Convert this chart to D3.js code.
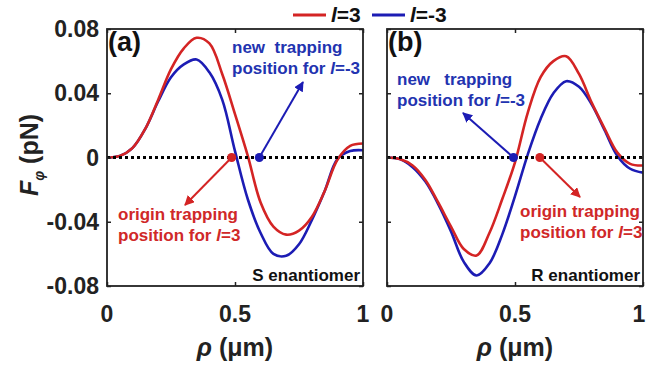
<!DOCTYPE html>
<html>
<head>
<meta charset="utf-8">
<script src="https://cdn.jsdelivr.net/npm/d3@7"></script>
</head>
<body style="margin:0;background:#fff">
<svg id="chart" width="646" height="367"></svg>
<script>
// radial position (um)
const rho = [0, 0.05, 0.1, 0.15, 0.2, 0.25, 0.3, 0.35, 0.4, 0.45, 0.5,
             0.55, 0.6, 0.65, 0.7, 0.75, 0.8, 0.85, 0.9, 0.95, 1.0];

// (a) S enantiomer
const sL3  = [0, 0.001, 0.006, 0.018, 0.036, 0.055, 0.068, 0.0745, 0.071, 0.052, 0.027,
              0.001, -0.028, -0.043, -0.048, -0.0455, -0.037, -0.021, -0.0015, 0.0072, 0.0087];
const sLm3 = [0, 0.001, 0.006, 0.018, 0.035, 0.050, 0.058, 0.061, 0.053, 0.036, 0.004,
              -0.026, -0.047, -0.060, -0.0612, -0.054, -0.039, -0.021, -0.001, 0.004, 0.0045];

// (b) R enantiomer
const rL3  = [0, -0.001, -0.005, -0.014, -0.028, -0.043, -0.057, -0.061, -0.047, -0.026, -0.003,
              0.028, 0.050, 0.060, 0.063, 0.052, 0.034, 0.018, 0.003, -0.004, -0.005];
const rLm3 = [0, -0.001, -0.006, -0.015, -0.029, -0.046, -0.065, -0.0735, -0.066, -0.048, -0.024,
              0.002, 0.024, 0.040, 0.0475, 0.044, 0.033, 0.017, 0.001, -0.007, -0.0094];

const yTicks = [-0.08, -0.04, 0, 0.04, 0.08];
const xTicks = [0, 0.5, 1];

// trapping positions (dots on the zero line)
const trapS = { l3: 0.487, lm3: 0.595 };
const trapR = { l3: 0.597, lm3: 0.494 };

const red = "#d42424", blue = "#1c1cb4";
const svg = d3.select("#chart")
  .attr("font-family", "'Liberation Sans', Arial, sans-serif")
  .attr("font-weight", "bold");

const plotTop = 29, plotBottom = 286;
const y = d3.scaleLinear().domain([-0.08, 0.08]).range([plotBottom, plotTop]);

const defs = svg.append("defs");
[["arrRed", red], ["arrBlue", blue]].forEach(([id, c]) => {
  defs.append("marker").attr("id", id)
    .attr("viewBox", "0 0 10 10").attr("refX", 9).attr("refY", 5)
    .attr("markerWidth", 5).attr("markerHeight", 5).attr("orient", "auto")
    .append("path").attr("d", "M0,0L10,5L0,10z").attr("fill", c);
});

function panel(left, right, s1, s2, opt) {
  const x = d3.scaleLinear().domain([0, 1]).range([left, right]);
  const g = svg.append("g");

  // curves
  const line = d3.line().x((d, i) => x(rho[i])).y(d => y(d)).curve(d3.curveCatmullRom.alpha(0.5));
  g.append("path").datum(s2).attr("d", line).attr("fill", "none").attr("stroke", blue).attr("stroke-width", 2.6);
  g.append("path").datum(s1).attr("d", line).attr("fill", "none").attr("stroke", red).attr("stroke-width", 2.6);

  // zero line
  g.append("line").attr("x1", left).attr("x2", right).attr("y1", y(0)).attr("y2", y(0))
    .attr("stroke", "#000").attr("stroke-width", 3).attr("stroke-dasharray", "3,3");

  // axes box with inward ticks
  const ax = (a, tr) => g.append("g").attr("transform", tr)
    .call(a.tickSizeInner(-4).tickSizeOuter(0).tickFormat(""))
    .call(s => s.select(".domain").remove())
    .call(s => s.selectAll("line").attr("stroke", "#222").attr("stroke-width", 1.5));
  ax(d3.axisLeft(y).tickValues(yTicks), `translate(${left},0)`);
  ax(d3.axisRight(y).tickValues(yTicks), `translate(${right},0)`);
  ax(d3.axisBottom(x).tickValues(xTicks), `translate(0,${plotBottom})`);
  ax(d3.axisTop(x).tickValues(xTicks), `translate(0,${plotTop})`);
  g.append("rect").attr("x", left).attr("y", plotTop).attr("width", right - left).attr("height", plotBottom - plotTop)
    .attr("fill", "none").attr("stroke", "#222").attr("stroke-width", 1.8);

  // x tick labels
  g.selectAll(".xt").data(xTicks).enter().append("text")
    .attr("x", d => Math.min(x(d), 639)).attr("y", 322).attr("text-anchor", "middle")
    .attr("font-size", 23).attr("fill", "#222").text(d => d);

  // x axis title
  const xt = g.append("text").attr("x", x(0.5)).attr("y", 356).attr("text-anchor", "middle")
    .attr("font-size", 25).attr("fill", "#222");
  xt.append("tspan").attr("font-style", "italic").text("ρ");
  xt.append("tspan").text(" (μm)");

  // panel letter
  g.append("text").attr("x", left + 1).attr("y", plotTop + 22).attr("font-size", 27).attr("fill", "#111").text(opt.tag);

  // dots and arrows
  const dot = (v, c) => g.append("circle").attr("cx", x(v)).attr("cy", y(0)).attr("r", 4.5).attr("fill", c);
  const arrow = (x0, y0, x1, y1, c, m) => g.append("line").attr("x1", x0).attr("y1", y0).attr("x2", x1).attr("y2", y1)
    .attr("stroke", c).attr("stroke-width", 2).attr("marker-end", `url(#${m})`);
  arrow(x(opt.trap.l3), y(0), opt.redTip[0], opt.redTip[1], red, "arrRed");
  arrow(x(opt.trap.lm3), y(0), opt.blueTip[0], opt.blueTip[1], blue, "arrBlue");
  dot(opt.trap.l3, red);
  dot(opt.trap.lm3, blue);

  // annotation texts
  const note = (tx, ty, c, first, num) => {
    g.append("text").attr("x", tx).attr("y", ty).attr("font-size", 17).attr("fill", c)
      .style("white-space", "pre").text(first);
    const t2 = g.append("text").attr("x", tx).attr("y", ty + 21).attr("font-size", 17).attr("fill", c);
    t2.append("tspan").text("position for ");
    t2.append("tspan").attr("font-style", "italic").text("l");
    t2.append("tspan").text("=" + num);
  };
  note(opt.blueText[0], opt.blueText[1], "#2233b0", opt.newLabel, "-3");
  note(opt.redText[0], opt.redText[1], "#d02828", "origin trapping", "3");

  g.append("text").attr("x", right - 3).attr("y", plotBottom - 5).attr("text-anchor", "end")
    .attr("font-size", 17).attr("fill", "#111").text(opt.name);
  return x;
}

panel(107, 363, sL3, sLm3, {
  tag: "(a)", name: "S enantiomer", trap: trapS,
  redTip: [185, 205], blueTip: [303, 82],
  blueText: [232, 53], redText: [118, 220], newLabel: "new  trapping"
});
panel(387, 643, rL3, rLm3, {
  tag: "(b)", name: "R enantiomer", trap: trapR,
  redTip: [580, 197], blueTip: [463, 113],
  blueText: [397, 85], redText: [520, 217], newLabel: "new   trapping"
});

// y tick labels (panel a only)
svg.selectAll(".yt").data(yTicks).enter().append("text")
  .attr("x", 99).attr("y", d => y(d) + 8).attr("text-anchor", "end")
  .attr("font-size", 23).attr("fill", "#222").text(d => d === 0 ? "0" : d3.format(".2f")(d).replace("−", "-"));

// y axis title
const yt = svg.append("text").attr("transform", "translate(38,155) rotate(-90)")
  .attr("text-anchor", "middle").attr("font-size", 25).attr("fill", "#222");
yt.append("tspan").attr("font-style", "italic").text("F");
yt.append("tspan").attr("font-style", "italic").attr("font-size", 14).attr("dy", 6).text("φ");
yt.append("tspan").attr("dy", -6).text(" (pN)");

// legend
const legend = [["l", "=3", red, 293], ["l", "=-3", blue, 372]];
legend.forEach(([a, b, c, lx]) => {
  svg.append("line").attr("x1", lx).attr("x2", lx + 33).attr("y1", 15).attr("y2", 15)
    .attr("stroke", c).attr("stroke-width", 3);
  const t = svg.append("text").attr("x", lx + 38).attr("y", 22).attr("font-size", 21).attr("fill", "#111");
  t.append("tspan").attr("font-style", "italic").text(a);
  t.append("tspan").text(b);
});
</script>
</body>
</html>
